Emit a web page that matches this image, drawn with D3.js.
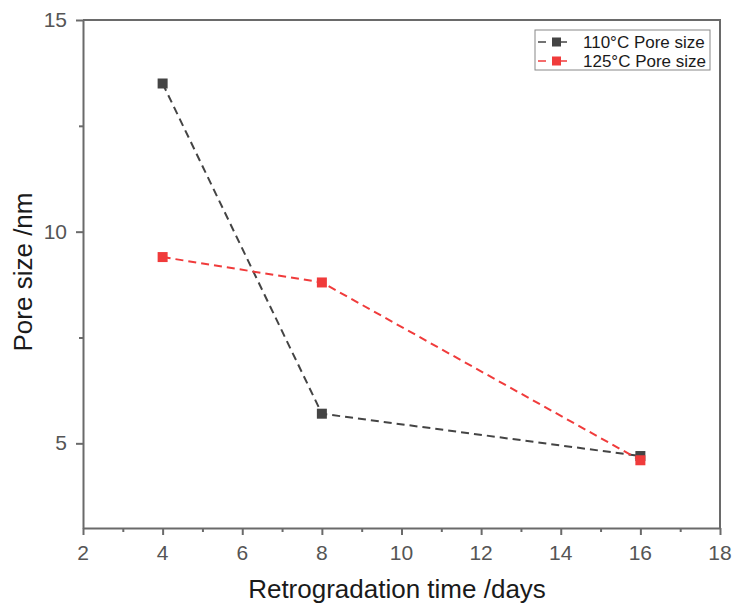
<!DOCTYPE html>
<html lang="en">
<head>
    <meta charset="UTF-8">
    <title>Pore size</title>
    <script src="https://cdn.jsdelivr.net/npm/d3@7"></script>
    <style>
    html, body { margin: 0; padding: 0; background: #fff; }
    svg { display: block; font-family: "Liberation Sans", Arial, sans-serif; }
    </style>
</head>
<body>
<div id="chart"></div>
<script>
    // data
    const days = [4, 8, 16];
    const pore110 = [13.5, 5.7, 4.7];
    const pore125 = [9.4, 8.8, 4.6];
    const seriesNames = ["110°C Pore size", "125°C Pore size"];
    const seriesColors = ["#444444", "#f03b3b"];
    const xTicks = [2, 4, 6, 8, 10, 12, 14, 16, 18];
    const yTicks = [5, 10, 15];

    var width = 734, height = 608,
        margin = { top: 20, left: 83, right: 14, bottom: 80 },
        innerWidth = width - margin.left - margin.right,
        innerHeight = height - margin.top - margin.bottom,
        axisColor = "#6a6a6a";

    var svg = d3.select("#chart").append("svg")
        .attr("width", width)
        .attr("height", height);

    var g = svg.append("g")
        .attr("transform", `translate(${margin.left}, ${margin.top})`);

    var x = d3.scaleLinear().domain([2, 18]).range([0, innerWidth]),
        y = d3.scaleLinear().domain([3, 15]).range([innerHeight, 0]);

    // frame (top and right)
    g.append("path")
        .attr("d", `M0,0H${innerWidth}V${innerHeight}`)
        .attr("fill", "none")
        .attr("stroke", axisColor)
        .attr("stroke-width", 2);

    function styleAxis(a) {
        a.selectAll("text").remove();
        a.select(".domain").attr("stroke", axisColor).attr("stroke-width", 2);
        a.selectAll(".tick line").attr("stroke", axisColor).attr("stroke-width", 2);
    }

    // minor ticks
    g.append("g")
        .attr("transform", `translate(0, ${innerHeight})`)
        .call(d3.axisBottom(x).tickValues([3, 5, 7, 9, 11, 13, 15, 17]).tickSize(4))
        .call(a => a.select(".domain").remove())
        .call(styleAxis);
    g.append("g")
        .call(d3.axisLeft(y).tickValues([7.5, 12.5]).tickSize(4))
        .call(a => a.select(".domain").remove())
        .call(styleAxis);

    // major ticks + axis lines
    g.append("g")
        .attr("transform", `translate(0, ${innerHeight})`)
        .call(d3.axisBottom(x).tickValues(xTicks).tickSize(7).tickSizeOuter(0))
        .call(styleAxis);
    g.append("g")
        .call(d3.axisLeft(y).tickValues(yTicks).tickSize(7).tickSizeOuter(0))
        .call(styleAxis);

    // tick labels
    g.selectAll(".xlab")
        .data(xTicks)
        .enter().append("text")
        .attr("class", "xlab")
        .attr("x", d => x(d))
        .attr("y", innerHeight + 32)
        .attr("text-anchor", "middle")
        .attr("fill", "#555")
        .attr("font-size", 21)
        .text(d => d);
    g.selectAll(".ylab")
        .data(yTicks)
        .enter().append("text")
        .attr("class", "ylab")
        .attr("x", -16)
        .attr("y", d => y(d) + 7)
        .attr("text-anchor", "end")
        .attr("fill", "#555")
        .attr("font-size", 21)
        .text(d => d);

    // axis titles
    svg.append("text")
        .attr("x", 397)
        .attr("y", 598)
        .attr("text-anchor", "middle")
        .attr("fill", "#1a1a1a")
        .attr("font-size", 26)
        .text("Retrogradation time /days");

    svg.append("text")
        .attr("transform", "translate(32, 272) rotate(-90)")
        .attr("text-anchor", "middle")
        .attr("fill", "#1a1a1a")
        .attr("font-size", 26)
        .text("Pore size /nm");

    // series
    var series = [pore110, pore125];
    var line = d3.line().x(d => x(d[0])).y(d => y(d[1]));

    series.forEach((vals, i) => {
        var pts = days.map((d, j) => [d, vals[j]]);
        g.append("path")
            .datum(pts)
            .attr("d", line)
            .attr("fill", "none")
            .attr("stroke", seriesColors[i])
            .attr("stroke-width", 2)
            .attr("stroke-dasharray", "8,5");
        g.selectAll(".pt" + i)
            .data(pts)
            .enter().append("rect")
            .attr("x", d => x(d[0]) - 5)
            .attr("y", d => y(d[1]) - 5)
            .attr("width", 10)
            .attr("height", 10)
            .attr("fill", seriesColors[i]);
    });

    // legend
    var leg = svg.append("g").attr("transform", "translate(535, 30)");
    leg.append("rect")
        .attr("width", 175).attr("height", 40)
        .attr("fill", "#fff")
        .attr("stroke", "#888")
        .attr("stroke-width", 1);
    seriesNames.forEach((name, i) => {
        var row = leg.append("g").attr("transform", `translate(0, ${12 + i * 19})`);
        row.append("line")
            .attr("x1", 3).attr("x2", 11)
            .attr("stroke", seriesColors[i])
            .attr("stroke-width", 1.5);
        row.append("line")
            .attr("x1", 26).attr("x2", 32)
            .attr("stroke", seriesColors[i])
            .attr("stroke-width", 1.5);
        row.append("rect")
            .attr("x", 17).attr("y", -4.5)
            .attr("width", 9).attr("height", 9)
            .attr("fill", seriesColors[i]);
        row.append("text")
            .attr("x", 48).attr("y", 6)
            .attr("fill", "#1a1a1a")
            .attr("font-size", 17)
            .text(name);
    });
</script>
</body>
</html>
